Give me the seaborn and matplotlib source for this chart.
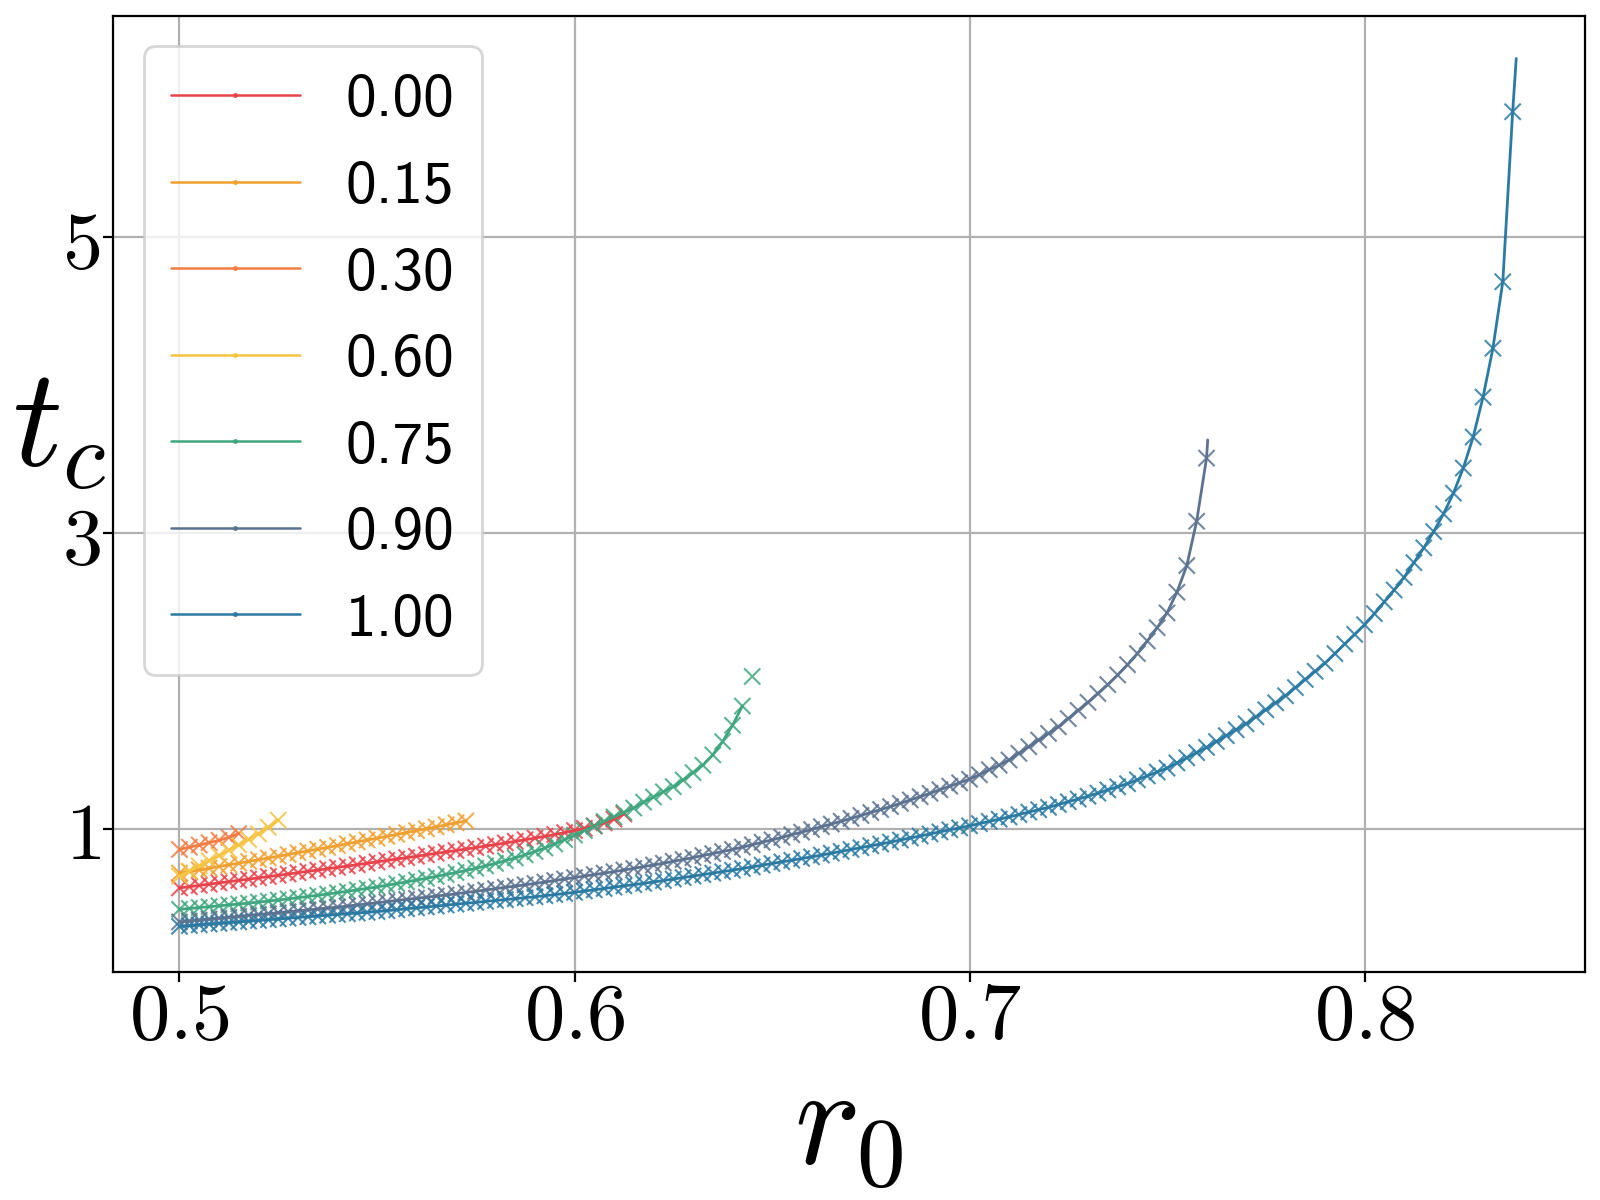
import matplotlib
matplotlib.use("Agg")
import matplotlib.pyplot as plt
from matplotlib.lines import Line2D
import pandas as pd
import seaborn as sns

# r0 grid shared by all runs (step 0.0025)
r0 = [0.5, 0.5025, 0.505, 0.5075, 0.51, 0.5125, 0.515, 0.5175,
      0.52, 0.5225, 0.525, 0.5275, 0.53, 0.5325, 0.535, 0.5375,
      0.54, 0.5425, 0.545, 0.5475, 0.55, 0.5525, 0.555, 0.5575,
      0.56, 0.5625, 0.565, 0.5675, 0.57, 0.5725, 0.575, 0.5775,
      0.58, 0.5825, 0.585, 0.5875, 0.59, 0.5925, 0.595, 0.5975,
      0.6, 0.6025, 0.605, 0.6075, 0.61, 0.6125, 0.615, 0.6175,
      0.62, 0.6225, 0.625, 0.6275, 0.63, 0.6325, 0.635, 0.6375,
      0.64, 0.6425, 0.645, 0.6475, 0.65, 0.6525, 0.655, 0.6575,
      0.66, 0.6625, 0.665, 0.6675, 0.67, 0.6725, 0.675, 0.6775,
      0.68, 0.6825, 0.685, 0.6875, 0.69, 0.6925, 0.695, 0.6975,
      0.7, 0.7025, 0.705, 0.7075, 0.71, 0.7125, 0.715, 0.7175,
      0.72, 0.7225, 0.725, 0.7275, 0.73, 0.7325, 0.735, 0.7375,
      0.74, 0.7425, 0.745, 0.7475, 0.75, 0.7525, 0.755, 0.7575,
      0.76, 0.7625, 0.765, 0.7675, 0.77, 0.7725, 0.775, 0.7775,
      0.78, 0.7825, 0.785, 0.7875, 0.79, 0.7925, 0.795, 0.7975,
      0.8, 0.8025, 0.805, 0.8075, 0.81, 0.8125, 0.815, 0.8175,
      0.82, 0.8225, 0.825, 0.8275, 0.83, 0.8325, 0.835, 0.8375]

labels = ["0.00", "0.15", "0.30", "0.60", "0.75", "0.90", "1.00"]
colors = ["#e8434b", "#f0a030", "#f27d44", "#f6c443", "#3fa77f", "#5b7290", "#2a7aa3"]

# t_c for each run, starting at r0 = 0.5
tc_000 = [0.600, 0.608, 0.617, 0.625, 0.634, 0.642, 0.651, 0.659,
          0.668, 0.677, 0.685, 0.694, 0.703, 0.712, 0.721, 0.730,
          0.739, 0.748, 0.757, 0.767, 0.776, 0.786, 0.795, 0.805,
          0.814, 0.824, 0.834, 0.843, 0.853, 0.863, 0.873, 0.883,
          0.893, 0.904, 0.915, 0.926, 0.937, 0.949, 0.961, 0.974,
          0.988, 1.003, 1.020, 1.040, 1.065, 1.100]
tc_015 = [0.700, 0.711, 0.722, 0.733, 0.745, 0.756, 0.767, 0.779,
          0.791, 0.802, 0.814, 0.826, 0.838, 0.850, 0.862, 0.874,
          0.886, 0.899, 0.911, 0.924, 0.936, 0.949, 0.962, 0.974,
          0.987, 1.000, 1.013, 1.027, 1.040, 1.053]
tc_030 = [0.860, 0.876, 0.890, 0.906, 0.922, 0.942, 0.968]
tc_060 = [0.680, 0.714, 0.749, 0.784, 0.819, 0.855, 0.891, 0.928,
          0.966, 1.010, 1.058]
tc_075 = [0.455, 0.461, 0.467, 0.473, 0.479, 0.485, 0.491, 0.497,
          0.504, 0.511, 0.518, 0.526, 0.534, 0.542, 0.550, 0.559,
          0.568, 0.577, 0.587, 0.597, 0.607, 0.618, 0.629, 0.641,
          0.653, 0.665, 0.678, 0.691, 0.704, 0.718, 0.733, 0.749,
          0.766, 0.784, 0.803, 0.824, 0.846, 0.870, 0.897, 0.927,
          0.957, 0.988, 1.018, 1.050, 1.080, 1.110, 1.140, 1.180,
          1.215, 1.250, 1.285, 1.330, 1.380, 1.430, 1.500, 1.590,
          1.700, 1.830, 2.030]
tc_090 = [0.370, 0.376, 0.382, 0.389, 0.395, 0.401, 0.407, 0.414,
          0.420, 0.426, 0.432, 0.439, 0.445, 0.451, 0.457, 0.464,
          0.470, 0.477, 0.485, 0.492, 0.500, 0.507, 0.515, 0.522,
          0.530, 0.537, 0.545, 0.552, 0.560, 0.569, 0.577, 0.586,
          0.595, 0.604, 0.612, 0.621, 0.630, 0.640, 0.650, 0.660,
          0.670, 0.680, 0.690, 0.700, 0.710, 0.721, 0.732, 0.744,
          0.755, 0.767, 0.780, 0.792, 0.805, 0.819, 0.832, 0.846,
          0.860, 0.876, 0.892, 0.909, 0.925, 0.942, 0.960, 0.977,
          0.995, 1.014, 1.032, 1.051, 1.070, 1.090, 1.110, 1.130,
          1.150, 1.172, 1.195, 1.217, 1.240, 1.264, 1.288, 1.311,
          1.335, 1.365, 1.400, 1.430, 1.465, 1.510, 1.555, 1.600,
          1.645, 1.690, 1.745, 1.800, 1.855, 1.915, 1.975, 2.040,
          2.110, 2.185, 2.270, 2.360, 2.460, 2.600, 2.780, 3.080,
          3.507]
tc_100 = [0.340, 0.345, 0.350, 0.355, 0.360, 0.365, 0.370, 0.375,
          0.380, 0.385, 0.390, 0.395, 0.400, 0.405, 0.410, 0.415,
          0.420, 0.425, 0.430, 0.435, 0.440, 0.446, 0.452, 0.459,
          0.465, 0.471, 0.477, 0.484, 0.490, 0.496, 0.502, 0.509,
          0.515, 0.521, 0.527, 0.534, 0.540, 0.547, 0.555, 0.562,
          0.570, 0.579, 0.587, 0.596, 0.605, 0.614, 0.622, 0.631,
          0.640, 0.650, 0.660, 0.670, 0.680, 0.690, 0.700, 0.710,
          0.720, 0.731, 0.742, 0.754, 0.765, 0.776, 0.787, 0.799,
          0.810, 0.822, 0.835, 0.847, 0.860, 0.872, 0.885, 0.897,
          0.910, 0.924, 0.938, 0.951, 0.965, 0.979, 0.993, 1.006,
          1.020, 1.035, 1.050, 1.065, 1.080, 1.096, 1.113, 1.129,
          1.145, 1.164, 1.183, 1.201, 1.220, 1.241, 1.263, 1.284,
          1.305, 1.331, 1.358, 1.384, 1.410, 1.445, 1.480, 1.515,
          1.550, 1.590, 1.630, 1.670, 1.710, 1.757, 1.805, 1.852,
          1.900, 1.955, 2.010, 2.065, 2.120, 2.185, 2.250, 2.315,
          2.380, 2.455, 2.535, 2.615, 2.700, 2.800, 2.900, 3.010,
          3.130, 3.270, 3.440, 3.650, 3.920, 4.250, 4.700, 5.850]

# the solid curves follow the crosses, but 0.90 and 1.00 run a bit past
# the last cross and 0.75 stops one cross short
line_extra_r0 = {"0.90": [0.7603], "1.00": [0.8384]}
line_extra_tc = {"0.90": [3.63], "1.00": [6.21]}
line_skip_last = ["0.75"]

xticks = [0.5, 0.6, 0.7, 0.8]
yticks = [1, 3, 5]

series = dict(zip(labels, [tc_000, tc_015, tc_030, tc_060, tc_075, tc_090, tc_100]))
palette = dict(zip(labels, colors))

rows_m, rows_l = [], []
for lab, tc in series.items():
    xs = r0[:len(tc)]
    rows_m += [(x, y, lab) for x, y in zip(xs, tc)]
    lx, ly = list(xs), list(tc)
    if lab in line_skip_last:
        lx, ly = lx[:-1], ly[:-1]
    lx += line_extra_r0.get(lab, [])
    ly += line_extra_tc.get(lab, [])
    rows_l += [(x, y, lab) for x, y in zip(lx, ly)]
marks = pd.DataFrame(rows_m, columns=["r0", "tc", "p"])
lines = pd.DataFrame(rows_l, columns=["r0", "tc", "p"])

sns.set_style("whitegrid")
plt.rcParams.update({
    "mathtext.fontset": "cm",
    "font.family": ["DejaVu Sans"],
    "text.color": "black",
    "axes.labelcolor": "black",
    "xtick.color": "black",
    "ytick.color": "black",
})

fig, ax = plt.subplots(figsize=(8, 6), dpi=200)
fig.subplots_adjust(left=0.0707, right=0.9906, top=0.987, bottom=0.1896)

sns.scatterplot(data=marks, x="r0", y="tc", hue="p", palette=palette, hue_order=labels,
                marker="x", s=34, linewidth=0.75, alpha=0.85, legend=False, ax=ax)
sns.lineplot(data=lines, x="r0", y="tc", hue="p", palette=palette, hue_order=labels,
             estimator=None, sort=False, lw=1.0, legend=False, ax=ax)

ax.set_xlim(0.4832, 0.8558)
ax.set_ylim(0.028, 6.5)
ax.set_xticks(xticks)
ax.set_xticklabels([f"${v}$" for v in xticks], fontsize=29)
ax.set_yticks(yticks)
ax.set_yticklabels([f"${v}$" for v in yticks], fontsize=29)
ax.tick_params(bottom=True, left=True, direction="out", length=3.5, width=0.8,
               color="black")
ax.tick_params(axis="x", pad=-1.5)
ax.tick_params(axis="y", pad=1)
ax.grid(True, color="#b0b0b0", lw=0.8)
for sp in ax.spines.values():
    sp.set_color("black")
    sp.set_linewidth(0.8)

ax.set_xlabel(r"$r_0$", fontsize=50)
ax.xaxis.set_label_coords(0.5, -0.089)
ax.set_ylabel(r"$t_c$", fontsize=50, rotation=0)
ax.yaxis.set_label_coords(-0.037, 0.5)

handles = [Line2D([0], [0], color=palette[l], lw=0.9, marker=".", markersize=1.5)
           for l in labels]
ax.legend(handles, labels, loc="upper left",
          prop={"family": "cmss10", "size": 22}, labelspacing=0.52,
          handlelength=2.1, handletextpad=0.75, borderpad=0.45,
          framealpha=0.8, edgecolor="0.8", fancybox=True)

fig.savefig("out.png", dpi=200)
